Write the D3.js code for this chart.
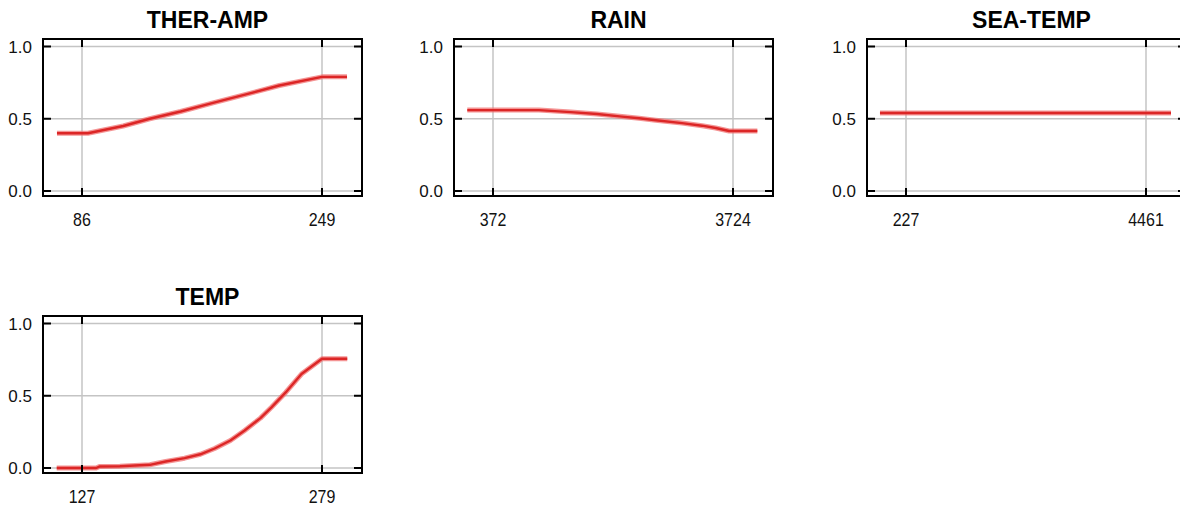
<!DOCTYPE html>
<html>
<head>
<meta charset="utf-8">
<script src="https://cdn.jsdelivr.net/npm/d3@7"></script>
<style>
  body { margin: 0; background: #fff; }
  text { font-family: Arial, "Liberation Sans", sans-serif; }
</style>
</head>
<body>
<div class="contents"></div>
<script>
var width = 1180;
var height = 507;

// data
var titles = ["THER-AMP", "RAIN", "SEA-TEMP", "TEMP"];

var therAmpTicks = [86, 249];
var therAmpX = [69, 90, 114, 132, 153, 175, 198, 220, 249, 266];
var therAmpY = [0.40, 0.40, 0.45, 0.50, 0.55, 0.61, 0.67, 0.73, 0.79, 0.79];

var rainTicks = [372, 3724];
var rainX = [13, 1015, 1457, 1825, 2174, 2412, 2645, 3012, 3292, 3483, 3669, 4064];
var rainY = [0.56, 0.56, 0.546, 0.533, 0.515, 0.503, 0.49, 0.47, 0.452, 0.436, 0.415, 0.415];

var seaTempTicks = [227, 4461];
var seaTempX = [-232, 4902];
var seaTempY = [0.54, 0.54];

var tempTicks = [127, 279];
var tempX = [111, 136, 138, 151, 170, 180, 192, 202, 211, 221, 230, 240, 247, 256, 266, 279, 295];
var tempY = [0.0, 0.0, 0.01, 0.012, 0.022, 0.045, 0.068, 0.095, 0.135, 0.19, 0.26, 0.345, 0.42, 0.523, 0.65, 0.756, 0.756];

var yTicks = [0, 0.5, 1.0];

var series = [
  {title: titles[0], ticks: therAmpTicks, x: therAmpX, y: therAmpY},
  {title: titles[1], ticks: rainTicks, x: rainX, y: rainY},
  {title: titles[2], ticks: seaTempTicks, x: seaTempX, y: seaTempY},
  {title: titles[3], ticks: tempTicks, x: tempX, y: tempY}
];

// panel layout
var pos = [{left: 43, top: 39}, {left: 454, top: 39}, {left: 867, top: 39}, {left: 43, top: 316}];
var pw = 319, ph = 157;

var svg = d3.select(".contents").append("svg")
  .attr("width", width)
  .attr("height", height);

var y = d3.scaleLinear().domain([0, 1]).range([ph - 5, 7.5]);

series.forEach(function(s, i) {
  var g = svg.append("g")
    .attr("transform", "translate(" + pos[i].left + "," + pos[i].top + ")");

  var x = d3.scaleLinear().domain(s.ticks).range([39, 279]);

  var clipId = "clip" + i;
  g.append("clipPath").attr("id", clipId)
    .append("rect").attr("width", pw).attr("height", ph);

  // grid
  g.selectAll(".hgrid").data(yTicks).enter().append("line")
    .attr("x1", 0).attr("x2", pw)
    .attr("y1", function(d) { return y(d); })
    .attr("y2", function(d) { return y(d); })
    .style("stroke", "#c4c4c4").style("stroke-width", 1.5);
  g.selectAll(".vgrid").data(s.ticks).enter().append("line")
    .attr("y1", 0).attr("y2", ph)
    .attr("x1", function(d) { return x(d); })
    .attr("x2", function(d) { return x(d); })
    .style("stroke", "#c4c4c4").style("stroke-width", 1.5);

  // curve
  var pts = s.x.map(function(v, k) { return [v, s.y[k]]; });
  var line = d3.line().x(function(d) { return x(d[0]); }).y(function(d) { return y(d[1]); });
  g.append("path").datum(pts)
    .attr("d", line)
    .attr("clip-path", "url(#" + clipId + ")")
    .style("fill", "none").style("stroke", "#f07070")
    .style("stroke-width", 5).style("opacity", 0.75)
    .style("stroke-linejoin", "round");
  g.append("path").datum(pts)
    .attr("d", line)
    .attr("clip-path", "url(#" + clipId + ")")
    .style("fill", "none").style("stroke", "#dc2626")
    .style("stroke-width", 2.4)
    .style("stroke-linejoin", "round");

  // tick marks inside the frame
  yTicks.forEach(function(t) {
    g.append("line").attr("x1", 0).attr("x2", 8).attr("y1", y(t)).attr("y2", y(t))
      .style("stroke", "#000").style("stroke-width", 2);
    g.append("line").attr("x1", pw - 8).attr("x2", pw).attr("y1", y(t)).attr("y2", y(t))
      .style("stroke", "#000").style("stroke-width", 2);
  });
  s.ticks.forEach(function(t) {
    g.append("line").attr("x1", x(t)).attr("x2", x(t)).attr("y1", 0).attr("y2", 8)
      .style("stroke", "#000").style("stroke-width", 2);
    g.append("line").attr("x1", x(t)).attr("x2", x(t)).attr("y1", ph - 8).attr("y2", ph)
      .style("stroke", "#000").style("stroke-width", 2);
  });

  // frame
  g.append("rect")
    .attr("width", pw).attr("height", ph)
    .style("fill", "none").style("stroke", "#000").style("stroke-width", 2);

  // y labels
  g.selectAll(".ylab").data(yTicks).enter().append("text")
    .attr("x", -11)
    .attr("y", function(d) { return y(d); })
    .attr("dy", "0.36em")
    .attr("text-anchor", "end")
    .style("font-size", "17px")
    .style("fill", "#111")
    .text(function(d) { return d3.format(".1f")(d); });

  // x labels
  g.selectAll(".xlab").data(s.ticks).enter().append("text")
    .attr("transform", function(d) { return "translate(" + x(d) + "," + (ph + 30) + ") scale(1,1.15)"; })
    .attr("text-anchor", "middle")
    .style("font-size", "16px")
    .style("fill", "#111")
    .text(function(d) { return d; });

  // title
  g.append("text")
    .attr("x", pw / 2 + 5)
    .attr("y", -11)
    .attr("text-anchor", "middle")
    .style("font-size", "23px")
    .style("font-weight", "bold")
    .style("fill", "#000")
    .text(s.title);
});
</script>
</body>
</html>
